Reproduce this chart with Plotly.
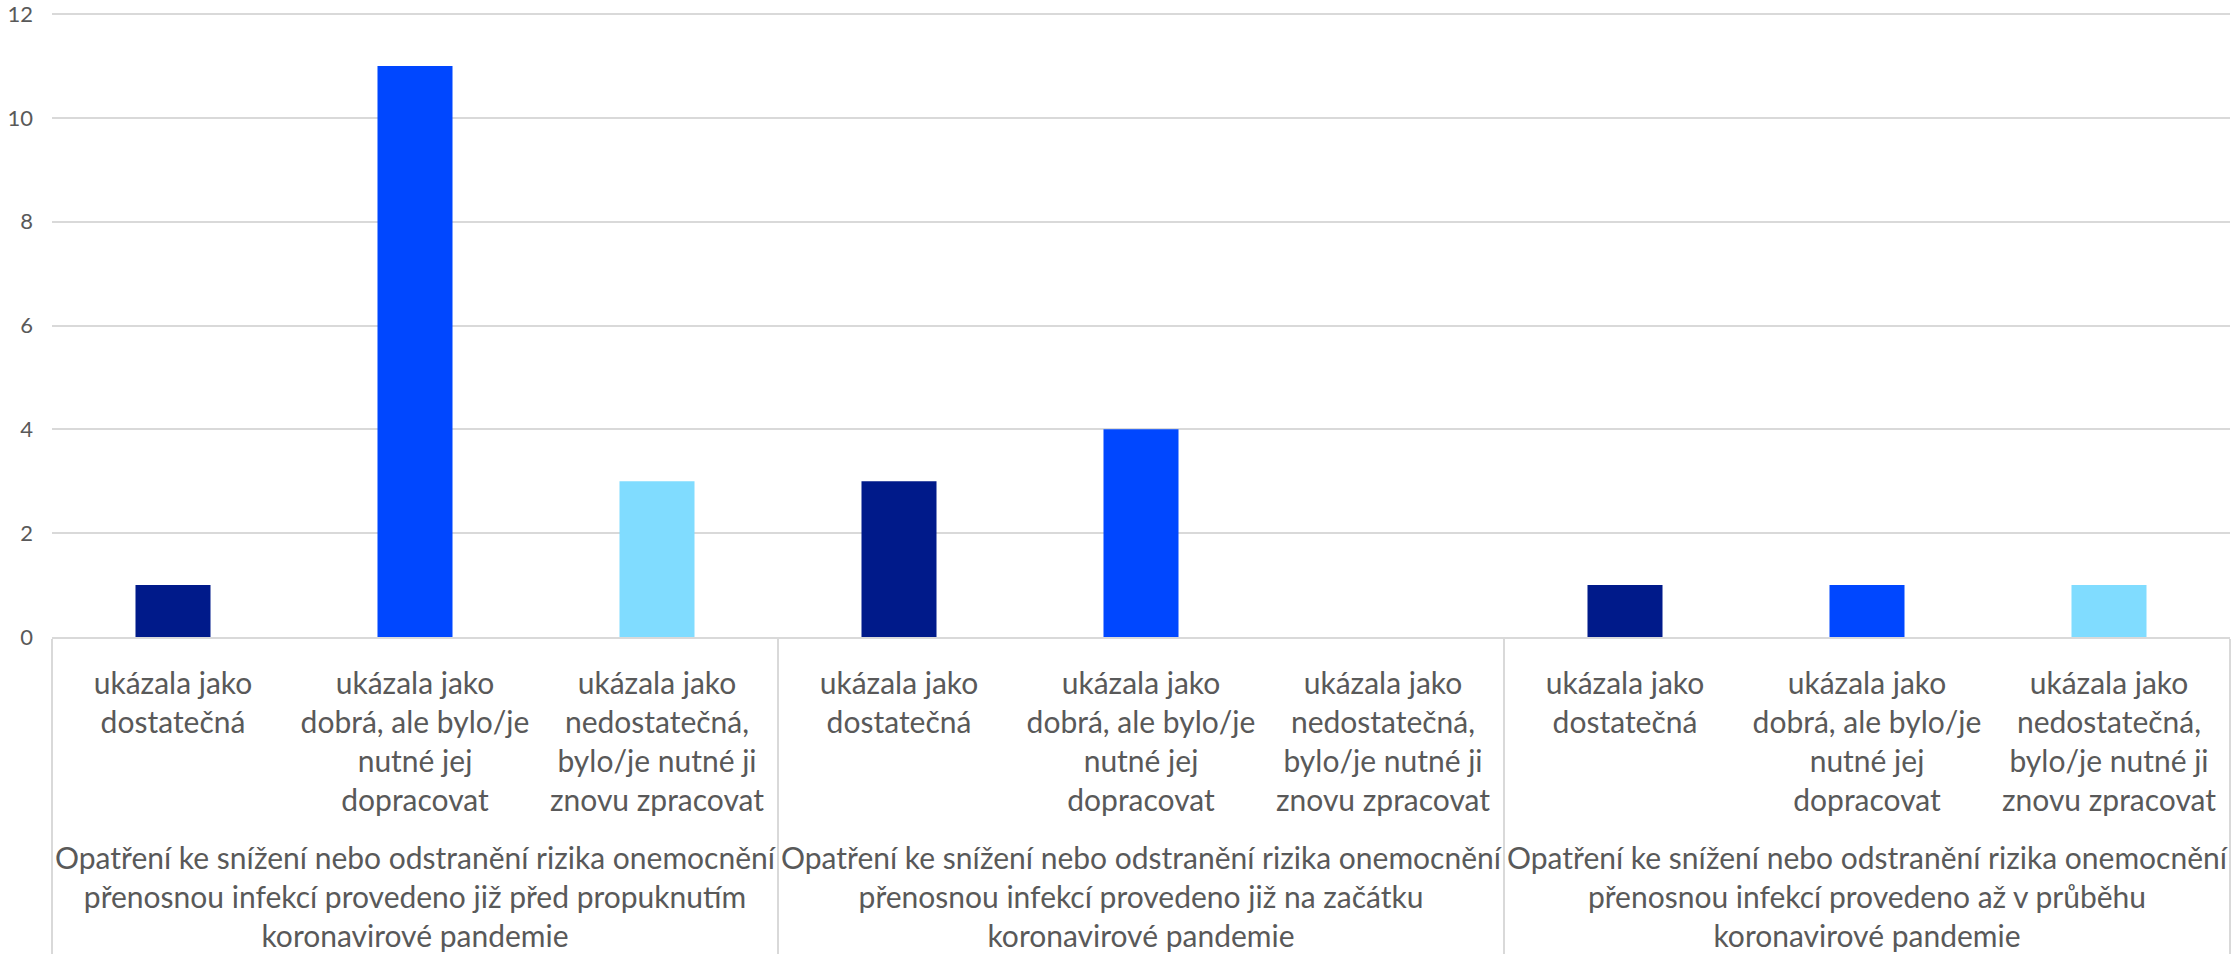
import plotly.graph_objects as go

groups = [
    "<br>Opatření ke snížení nebo odstranění rizika onemocnění<br>přenosnou infekcí provedeno již před propuknutím<br>koronavirové pandemie",
    "<br>Opatření ke snížení nebo odstranění rizika onemocnění<br>přenosnou infekcí provedeno již na začátku<br>koronavirové pandemie",
    "<br>Opatření ke snížení nebo odstranění rizika onemocnění<br>přenosnou infekcí provedeno až v průběhu<br>koronavirové pandemie",
]
answers = [
    "ukázala jako<br>dostatečná",
    "ukázala jako<br>dobrá, ale bylo/je<br>nutné jej<br>dopracovat",
    "ukázala jako<br>nedostatečná,<br>bylo/je nutné ji<br>znovu zpracovat",
]
values = [
    [1, 11, 3],
    [3, 4, 0],
    [1, 1, 1],
]
colors = ["#001A8A", "#0047FF", "#80DCFF"]
y_ticks = [0, 2, 4, 6, 8, 10, 12]

x_outer, x_inner, y_vals, c_vals = [], [], [], []
for g, vals in zip(groups, values):
    for a, v, c in zip(answers, vals, colors):
        x_outer.append(g)
        x_inner.append(a)
        y_vals.append(v)
        c_vals.append(c)

fig = go.Figure(go.Bar(x=[x_outer, x_inner], y=y_vals, marker=dict(color=c_vals, line=dict(width=0))))

fig.update_layout(
    width=2232, height=956,
    margin=dict(l=52, r=2, t=13, b=319, autoexpand=False),
    plot_bgcolor="white", paper_bgcolor="white",
    bargap=0.69,
    showlegend=False,
    font=dict(family="Lato, Carlito, Noto Sans", color="#595959"),
)
fig.update_yaxes(range=[0, 12.02], tickmode="array", tickvals=y_ticks,
                 gridcolor="#D9D9D9", gridwidth=1.5,
                 zeroline=False, showline=False, tickfont=dict(size=22, color="#595959"),
                 ticklabelstandoff=18, ticklabeloverflow="allow", automargin=False)
fig.update_xaxes(showline=True, linecolor="#D9D9D9", linewidth=2,
                 dividercolor="#D9D9D9", dividerwidth=2,
                 ticklabelstandoff=19,
                 tickfont=dict(size=30, color="#595959"), automargin=False)

fig.write_html(
    "out.html",
    config={"displayModeBar": False},
    post_script="document.body.style.margin='0';document.body.style.overflow='hidden';",
)
